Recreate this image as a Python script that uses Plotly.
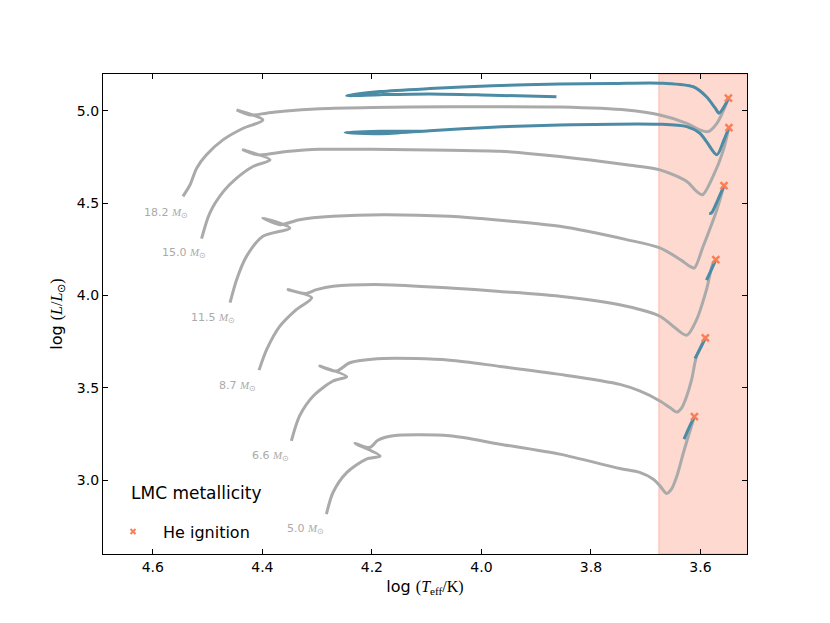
import plotly.graph_objects as go

# evolutionary tracks, LMC metallicity (log Teff, log L/Lsun)
masses = ["18.2", "15.0", "11.5", "8.7", "6.6", "5.0"]

teff_18_2 = [4.545, 4.532, 4.520, 4.502, 4.472, 4.435, 4.399, 4.447, 4.423, 4.392, 4.362, 4.295,
             4.200, 4.058, 3.966, 3.857, 3.735, 3.674, 3.625, 3.601, 3.586, 3.570, 3.555, 3.549]
lum_18_2 = [4.537, 4.600, 4.690, 4.762, 4.843, 4.906, 4.951, 5.005, 4.978, 4.988, 4.998, 5.012,
            5.019, 5.022, 5.023, 5.021, 5.005, 4.978, 4.933, 4.897, 4.888, 4.933, 5.023, 5.069]

teff_15_0 = [4.511, 4.496, 4.471, 4.447, 4.417, 4.386, 4.435, 4.408, 4.356, 4.295, 4.200, 4.058,
             3.966, 3.857, 3.735, 3.674, 3.625, 3.607, 3.596, 3.577, 3.558, 3.548]
lum_15_0 = [4.308, 4.447, 4.564, 4.636, 4.699, 4.735, 4.789, 4.762, 4.780, 4.792, 4.792, 4.787,
            4.782, 4.753, 4.708, 4.681, 4.618, 4.564, 4.546, 4.645, 4.789, 4.910]

teff_11_5 = [4.459, 4.447, 4.429, 4.399, 4.350, 4.399, 4.368, 4.332, 4.271, 4.179, 4.058,
             3.966, 3.857, 3.735, 3.674, 3.637, 3.619, 3.611, 3.595, 3.570, 3.557]
lum_11_5 = [3.961, 4.086, 4.212, 4.321, 4.366, 4.420, 4.384, 4.411, 4.429, 4.438, 4.429,
            4.408, 4.375, 4.303, 4.258, 4.195, 4.158, 4.150, 4.267, 4.465, 4.595]

teff_8_7 = [4.406, 4.392, 4.368, 4.338, 4.310, 4.353, 4.322, 4.301, 4.271, 4.179, 4.058,
            3.966, 3.857, 3.735, 3.674, 3.650, 3.625, 3.607, 3.589, 3.577, 3.572]
lum_8_7 = [3.596, 3.708, 3.834, 3.924, 3.988, 4.032, 4.011, 4.032, 4.050, 4.059, 4.041,
           4.022, 3.996, 3.942, 3.888, 3.834, 3.785, 3.870, 4.032, 4.177, 4.195]

teff_6_6 = [4.347, 4.332, 4.307, 4.271, 4.246, 4.295, 4.265, 4.240, 4.179, 4.058,
            3.966, 3.857, 3.747, 3.711, 3.674, 3.656, 3.643, 3.634, 3.625, 3.616, 3.607, 3.591]
lum_6_6 = [3.213, 3.348, 3.456, 3.537, 3.561, 3.618, 3.591, 3.636, 3.659, 3.650,
           3.616, 3.573, 3.519, 3.483, 3.429, 3.393, 3.369, 3.393, 3.456, 3.546, 3.672, 3.771]

teff_5_0 = [4.283, 4.271, 4.246, 4.210, 4.185, 4.231, 4.204, 4.189, 4.161, 4.058,
            3.966, 3.857, 3.747, 3.711, 3.686, 3.674, 3.662, 3.653, 3.643, 3.631, 3.622, 3.611]
lum_5_0 = [2.816, 2.933, 3.041, 3.114, 3.131, 3.200, 3.177, 3.216, 3.240, 3.240,
           3.195, 3.141, 3.063, 3.042, 3.005, 2.969, 2.928, 2.951, 3.023, 3.150, 3.239, 3.344]

# core helium burning part (blue)
he_teff_18_2 = [3.549, 3.555, 3.566, 3.573, 3.589, 3.613, 3.668, 3.760, 3.857, 3.980, 4.094,
                4.185, 4.246, 4.185, 4.094, 3.980, 3.863]
he_lum_18_2 = [5.069, 5.032, 4.988, 5.015, 5.077, 5.131, 5.150, 5.149, 5.146, 5.136, 5.121,
               5.105, 5.083, 5.088, 5.092, 5.085, 5.077]

he_teff_15_0 = [3.548, 3.557, 3.570, 3.589, 3.601, 3.625, 3.674, 3.857, 3.980, 4.094, 4.185,
                4.249, 4.185, 4.100]
he_lum_15_0 = [4.910, 4.843, 4.762, 4.834, 4.879, 4.915, 4.928, 4.924, 4.912, 4.893, 4.876,
               4.883, 4.890, 4.890]

he_teff_11_5 = [3.557, 3.568, 3.580, 3.584]
he_lum_11_5 = [4.595, 4.520, 4.447, 4.445]

he_teff_8_7 = [3.572, 3.580, 3.589]
he_lum_8_7 = [4.195, 4.140, 4.083]

he_teff_6_6 = [3.591, 3.600, 3.610]
he_lum_6_6 = [3.771, 3.715, 3.659]

he_teff_5_0 = [3.611, 3.620, 3.630]
he_lum_5_0 = [3.344, 3.290, 3.222]

# helium ignition points
ign_teff = [3.549, 3.548, 3.557, 3.572, 3.591, 3.611]
ign_lum = [5.069, 4.910, 4.595, 4.195, 3.771, 3.344]

tracks = [(teff_18_2, lum_18_2), (teff_15_0, lum_15_0), (teff_11_5, lum_11_5),
          (teff_8_7, lum_8_7), (teff_6_6, lum_6_6), (teff_5_0, lum_5_0)]
he_tracks = [(he_teff_18_2, he_lum_18_2), (he_teff_15_0, he_lum_15_0),
             (he_teff_11_5, he_lum_11_5), (he_teff_8_7, he_lum_8_7),
             (he_teff_6_6, he_lum_6_6), (he_teff_5_0, he_lum_5_0)]

gray = "#aaaaaa"
blue = "#4b8ba5"
orange = "#fa7f55"
serif = "Liberation Serif"

fig = go.Figure()

# red supergiant region
fig.add_vrect(x0=3.676, x1=3.40, fillcolor="rgba(250,128,100,0.30)",
              line=dict(color="rgba(245,120,95,0.40)", width=1), layer="below")

for t, l in tracks:
    fig.add_trace(go.Scatter(x=t, y=l, mode="lines", showlegend=False,
                             line=dict(color=gray, width=3, shape="spline", smoothing=0.8),
                             hoverinfo="skip"))

for t, l in he_tracks:
    fig.add_trace(go.Scatter(x=t, y=l, mode="lines", showlegend=False,
                             line=dict(color=blue, width=3, shape="spline", smoothing=0.8),
                             hoverinfo="skip"))

fig.add_trace(go.Scatter(x=ign_teff, y=ign_lum, mode="markers", showlegend=False,
                         marker=dict(symbol="x-thin", size=7, color=orange,
                                     line=dict(color=orange, width=2.5))))
# legend entry only
fig.add_trace(go.Scatter(x=[None], y=[None], mode="markers", name="He ignition",
                         marker=dict(symbol="x-thin", size=5, color=orange,
                                     line=dict(color=orange, width=2))))

# mass labels
label_teff = [4.532, 4.500, 4.447, 4.408, 4.347, 4.283]
label_lum = [4.447, 4.231, 3.879, 3.510, 3.131, 2.735]
for m, x, y in zip(masses, label_teff, label_lum):
    fig.add_annotation(x=x, y=y, xanchor="right", yanchor="middle", showarrow=False,
                       text=f"{m} <span style='font-family:{serif}'><i>M</i><sub>⊙</sub></span>",
                       font=dict(size=11, color=gray, family="DejaVu Sans"))

fig.add_annotation(x=0.04, y=0.127, xref="paper", yref="paper", xanchor="left",
                   yanchor="middle", showarrow=False, text="LMC metallicity",
                   font=dict(size=17, color="black", family="DejaVu Sans"))

axis_common = dict(showline=True, linecolor="black", linewidth=1.2, mirror="ticks",
                   ticks="inside", ticklen=5, tickwidth=1, tickcolor="black",
                   showgrid=False, zeroline=False,
                   tickfont=dict(size=14, family="DejaVu Sans", color="black"))

fig.update_xaxes(range=[4.691, 3.515], dtick=0.2, tick0=3.6, tickformat=".1f",
                 title=dict(text=f"log <span style='font-family:{serif}'>(<i>T</i><sub>eff</sub>/K)</span>",
                            font=dict(size=16, family="DejaVu Sans", color="black"),
                            standoff=6),
                 **axis_common)
fig.update_yaxes(range=[2.6, 5.2], dtick=0.5, tick0=3.0, tickformat=".1f",
                 title=dict(text=f"log <span style='font-family:{serif}'>(<i>L</i>/<i>L</i><sub>⊙</sub>)</span>",
                            font=dict(size=16, family="DejaVu Sans", color="black"),
                            standoff=10),
                 **axis_common)

fig.update_layout(width=830, height=623,
                  margin=dict(l=95, r=91, t=66, b=77),
                  plot_bgcolor="white", paper_bgcolor="white",
                  font=dict(family="DejaVu Sans"),
                  legend=dict(x=0.0, y=0.0465, xanchor="left", yanchor="middle",
                              itemwidth=50, bgcolor="rgba(0,0,0,0)",
                              font=dict(size=16, family="DejaVu Sans", color="black")))

fig.write_html("out.html")
